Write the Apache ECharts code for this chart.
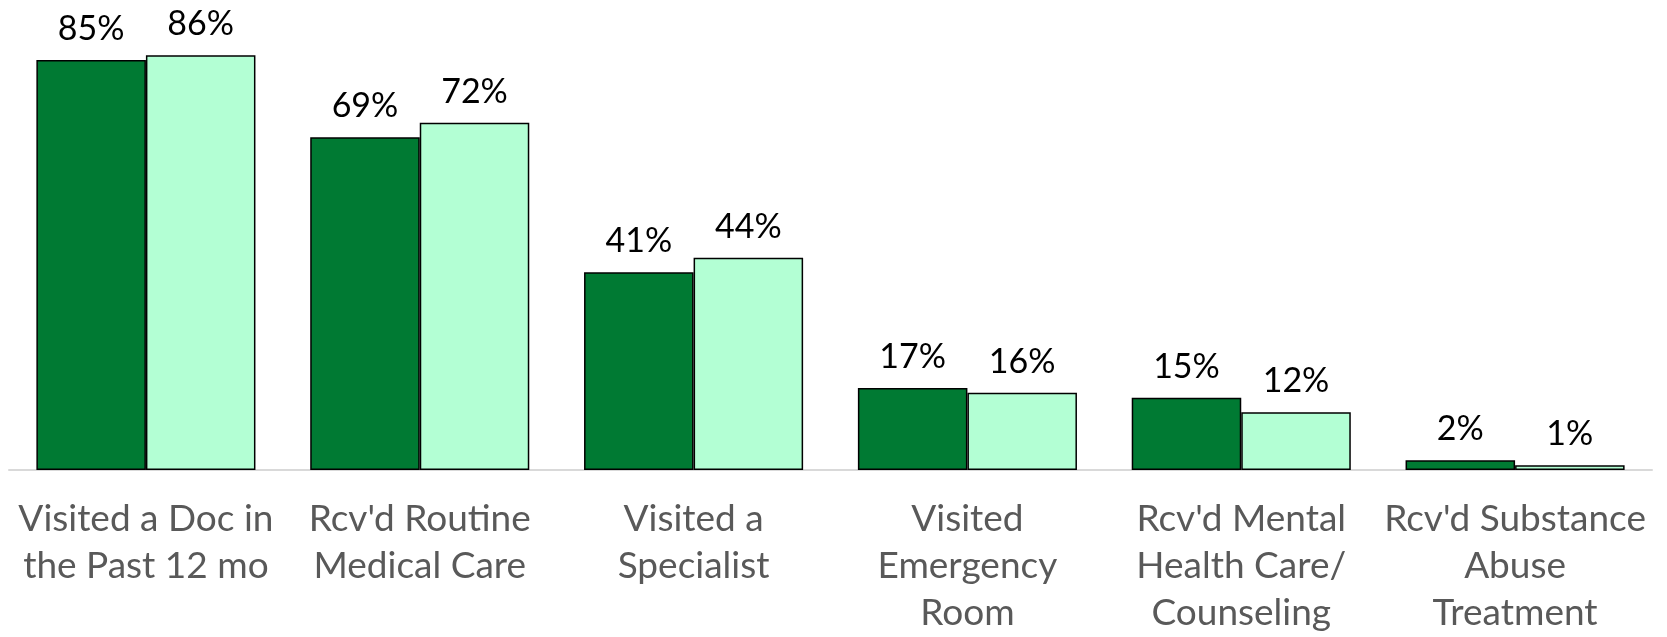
<!DOCTYPE html>
<html>
<head>
<meta charset="utf-8">
<script src="https://cdn.jsdelivr.net/npm/echarts@6/dist/echarts.min.js"></script>
<style>
    html, body { margin: 0; padding: 0; background: #fff; }
    #chart { width: 1667px; height: 637px; }
</style>
</head>
<body>
<div id="chart"></div>
<script>
    var categories = [
        'Visited a Doc in\nthe Past 12 mo',
        'Rcv\'d Routine\nMedical Care',
        'Visited a\nSpecialist',
        'Visited\nEmergency\nRoom',
        'Rcv\'d Mental\nHealth Care/\nCounseling',
        'Rcv\'d Substance\nAbuse\nTreatment'
    ];
    var seriesA = [85, 69, 41, 17, 15, 2];
    var seriesB = [86, 72, 44, 16, 12, 1];

    var chart = echarts.init(document.getElementById('chart'));

    var labelStyle = {
        show: true,
        position: 'top',
        distance: 14,
        color: '#000',
        fontSize: 34,
        fontFamily: 'Lato',
        formatter: '{c}%'
    };

    var option = {
        animation: false,
        grid: {
            left: 9,
            right: 15,
            top: 36,
            bottom: 162
        },
        xAxis: {
            type: 'category',
            data: categories,
            axisLine: { lineStyle: { color: '#d9d9d9', width: 2 } },
            axisTick: { show: false },
            axisLabel: {
                interval: 0,
                color: '#595959',
                fontSize: 37,
                fontFamily: 'Lato',
                lineHeight: 47,
                margin: 26
            }
        },
        yAxis: {
            type: 'value',
            min: 0,
            max: 90,
            show: false,
            splitLine: { show: false }
        },
        series: [
            {
                name: 'Series A',
                type: 'bar',
                data: seriesA,
                barGap: '0%',
                barCategoryGap: '20%',
                itemStyle: { color: '#007a33', borderColor: '#000', borderWidth: 1.5 },
                label: labelStyle
            },
            {
                name: 'Series B',
                type: 'bar',
                data: seriesB,
                itemStyle: { color: '#b3ffd4', borderColor: '#000', borderWidth: 1.5 },
                label: labelStyle
            }
        ]
    };

    chart.setOption(option);
</script>
</body>
</html>
